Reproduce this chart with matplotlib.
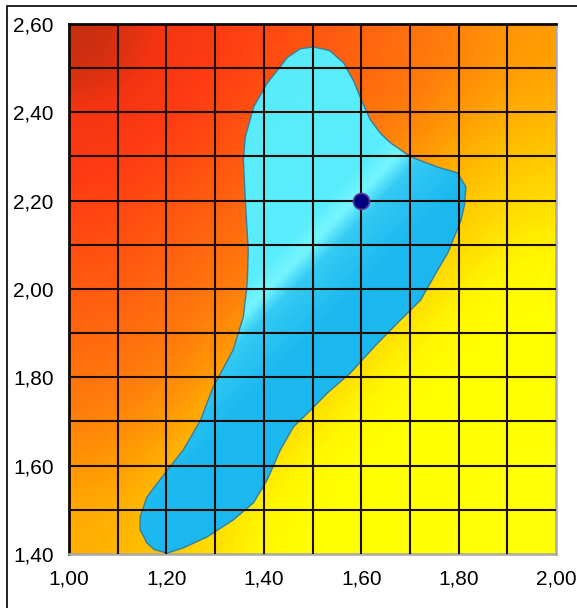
import matplotlib

matplotlib.use("Agg")
import matplotlib.pyplot as plt
import numpy as np
from matplotlib.colors import LinearSegmentedColormap
from matplotlib.patches import Polygon, Rectangle

plt.rcParams["font.family"] = ["Liberation Sans", "DejaVu Sans"]

# ── data ────────────────────────────────────────────────────────────
X_TICKS = [1.0, 1.2, 1.4, 1.6, 1.8, 2.0]
X_LABELS = ["1,00", "1,20", "1,40", "1,60", "1,80", "2,00"]
Y_TICKS = [1.4, 1.6, 1.8, 2.0, 2.2, 2.4, 2.6]
Y_LABELS = ["1,40", "1,60", "1,80", "2,00", "2,20", "2,40", "2,60"]

# background level read at nodes (rows: y=2.6 -> 1.4, cols: x=1.0 -> 2.0)
FIELD = [
    [0.00, 0.10, 0.19, 0.29, 0.38, 0.48],
    [0.09, 0.18, 0.28, 0.37, 0.47, 0.56],
    [0.17, 0.27, 0.36, 0.46, 0.55, 0.65],
    [0.26, 0.35, 0.45, 0.54, 0.64, 0.73],
    [0.35, 0.44, 0.54, 0.63, 0.72, 0.82],
    [0.43, 0.53, 0.62, 0.72, 0.81, 0.91],
    [0.52, 0.61, 0.71, 0.80, 0.90, 1.00],
]

# feasible region outline
REGION_X = [1.502, 1.535, 1.564, 1.585, 1.603, 1.619, 1.640, 1.660, 1.702, 1.757,
            1.798, 1.815, 1.812, 1.805, 1.778, 1.757, 1.722, 1.681, 1.630, 1.578,
            1.531, 1.490, 1.461, 1.434, 1.407, 1.379, 1.337, 1.284, 1.235, 1.202,
            1.175, 1.160, 1.146, 1.146, 1.160, 1.202, 1.235, 1.270, 1.296, 1.337,
            1.358, 1.366, 1.368, 1.362, 1.358, 1.362, 1.379, 1.407, 1.449, 1.475]
REGION_Y = [2.548, 2.540, 2.512, 2.470, 2.421, 2.383, 2.352, 2.331, 2.299, 2.276,
            2.263, 2.231, 2.190, 2.156, 2.082, 2.043, 1.975, 1.930, 1.873, 1.810,
            1.765, 1.719, 1.688, 1.636, 1.568, 1.516, 1.477, 1.439, 1.414, 1.402,
            1.410, 1.425, 1.455, 1.484, 1.529, 1.590, 1.636, 1.703, 1.778, 1.862,
            1.937, 2.014, 2.088, 2.200, 2.292, 2.344, 2.412, 2.466, 2.525, 2.544]

OPT_X, OPT_Y = 1.60, 2.20

# ── colours ─────────────────────────────────────────────────────────
heat = LinearSegmentedColormap.from_list("heat", [
    (0.00, "#c22e10"), (0.06, "#f43412"), (0.14, "#ff3c12"), (0.28, "#ff5e10"),
    (0.40, "#ff7c0c"), (0.48, "#ff9c04"), (0.55, "#ffbc00"), (0.62, "#ffd800"),
    (0.69, "#fff600"), (0.76, "#ffff00"), (1.00, "#ffff08")])
water = LinearSegmentedColormap.from_list("water", [
    (0.00, "#50e4f8"), (0.30, "#5aeefc"), (0.41, "#58ecfc"), (0.445, "#76f6ff"),
    (0.475, "#34caf3"), (0.55, "#1cb9f0"), (1.00, "#18b2ec")])

fig = plt.figure(figsize=(5.77, 6.08), dpi=100)
ax = fig.add_axes([69 / 577, 1 - 554 / 608, 487 / 577, 530 / 608])

ext = (1.0, 2.0, 1.4, 2.6)
z = np.array(FIELD)
ax.imshow(z, cmap=heat, vmin=0, vmax=1, extent=ext, aspect="auto",
          interpolation="bicubic", zorder=1)

poly = Polygon(np.column_stack([REGION_X, REGION_Y]), closed=True,
               facecolor="none", edgecolor="#3c7c98", lw=1.0, zorder=3)
ax.add_patch(poly)
blue = ax.imshow(z, cmap=water, vmin=0, vmax=1, extent=ext, aspect="auto",
                 interpolation="bicubic", zorder=2)
blue.set_clip_path(poly)

# grid
for gx in np.arange(1.1, 2.0, 0.1):
    ax.axvline(gx, color="#1c0c04", lw=1.5, zorder=4)
for gy in np.arange(1.5, 2.6, 0.1):
    ax.axhline(gy, color="#1c0c04", lw=1.5, zorder=4)

ax.plot([OPT_X], [OPT_Y], "o", ms=11.5, mfc="#000080", mec="#5a3aa0",
        mew=1.2, zorder=5)

ax.set_xlim(1.0, 2.0)
ax.set_ylim(1.4, 2.6)
ax.set_xticks(X_TICKS)
ax.set_xticklabels(X_LABELS)
ax.set_yticks(Y_TICKS)
ax.set_yticklabels(Y_LABELS)
ax.tick_params(length=0, labelsize=15, pad=11, colors="black")

for side in ("left", "top"):
    ax.spines[side].set_color("#100800")
    ax.spines[side].set_linewidth(2)
for side in ("right", "bottom"):
    ax.spines[side].set_color("#a8a8a8")
    ax.spines[side].set_linewidth(1.8)

# outer frame (cut at right/bottom edge of picture)
fig.patches.append(Rectangle((7 / 577, -0.05), 1.2, 1 - 6 / 608 + 0.05,
                             transform=fig.transFigure, fill=False,
                             edgecolor="black", lw=1.2))

fig.savefig("out.png", dpi=100)
